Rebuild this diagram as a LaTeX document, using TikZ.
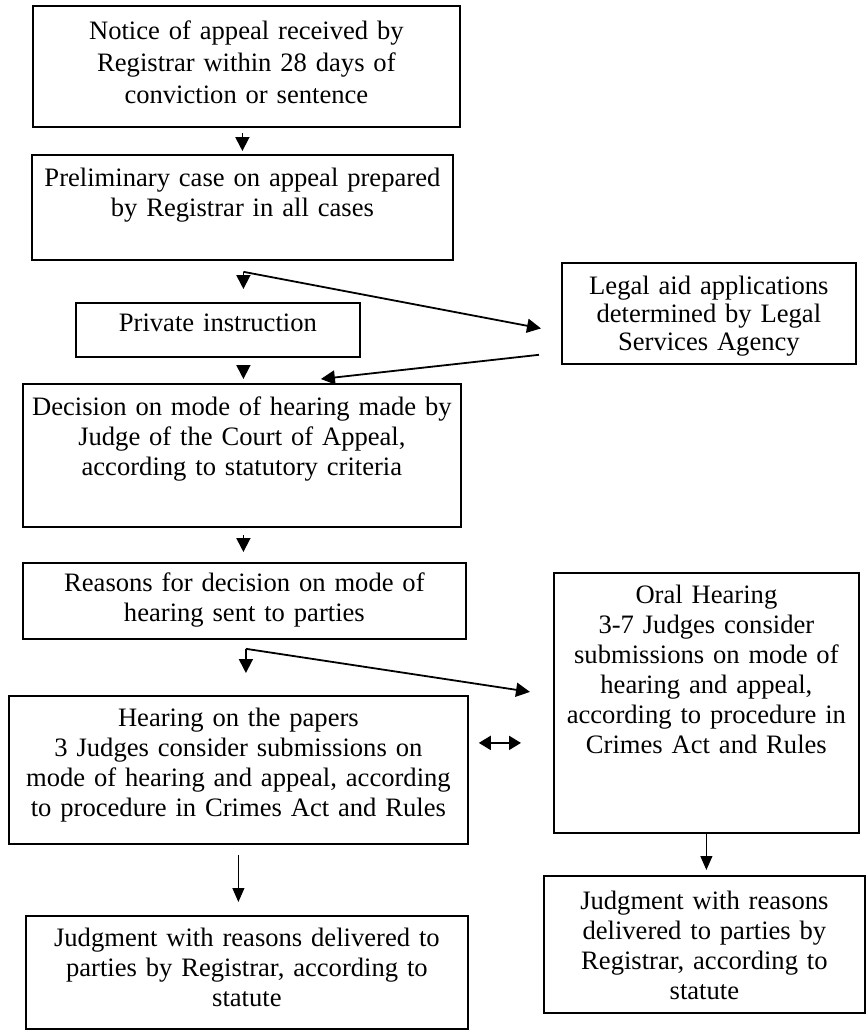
\documentclass[tikz,border=0pt]{standalone}
\usepackage{fontspec}
\setmainfont{Liberation Serif}
\usetikzlibrary{arrows.meta, calc}

\begin{document}
\begin{tikzpicture}[x=0.5pt, y=-0.5pt,
    box/.style={draw, line width=0.9pt, inner sep=0pt, anchor=north west, align=center,
      font=\fontsize{13.3}{15}\selectfont},
    arr/.style={line width=0.9pt, -{Triangle[length=7pt, width=7pt]}},
    thinarr/.style={line width=0.5pt, -{Triangle[length=7pt, width=6pt]}}]
\useasboundingbox (0,0) rectangle (866,1030);

% main column
\node[box, text width=213.5pt, text height=17pt, text depth=43.5pt,
  font=\fontsize{13.3}{16}\selectfont] (notice) at (32,5)
  {Notice of appeal received by\\Registrar within 28 days of\\conviction or sentence};
\node[box, text width=210.5pt, text height=16pt, text depth=36.5pt] (prelim) at (31,154)
  {Preliminary case on appeal prepared\\by Registrar in all cases};
\node[box, text width=142pt, text height=14.5pt, text depth=12.5pt] (priv) at (75,302)
  {Private instruction};
\node[box, text width=147pt, text height=16pt, text depth=34.5pt,
  font=\fontsize{13.3}{14}\selectfont] (legal) at (561,262)
  {Legal aid applications\\determined by Legal\\Services Agency};
\node[box, text width=219pt, text height=16pt, text depth=55.5pt] (dec) at (22,383)
  {Decision on mode of hearing made by\\Judge of the Court of Appeal,\\according to statutory criteria};
\node[box, text width=221.5pt, text height=14.5pt, text depth=23.5pt] (rsn) at (22,562)
  {Reasons for decision on mode of\\hearing sent to parties};

% the two kinds of hearing
\node[box, text width=229.5pt, text height=15.5pt, text depth=58.5pt] (pap) at (8,695)
  {Hearing on the papers\\3 Judges consider submissions on\\mode of hearing and appeal, according\\to procedure in Crimes Act and Rules};
\node[box, text width=152.5pt, text height=15.5pt, text depth=114.5pt] (oral) at (553,572)
  {Oral Hearing\\3-7 Judges consider\\submissions on mode of\\hearing and appeal,\\according to procedure in\\Crimes Act and Rules};
\node[box, text width=221pt, text height=15.5pt, text depth=41pt] (jl) at (25,915)
  {Judgment with reasons delivered to\\parties by Registrar, according to\\statute};
\node[box, text width=160.5pt, text height=17pt, text depth=51.5pt] (jr) at (543,875)
  {Judgment with reasons\\delivered to parties by\\Registrar, according to\\statute};

% connectors
\draw[arr] ($(prelim.north)+(0,-21)$) -- ($(prelim.north)+(0,-3)$);
\coordinate (split1) at ($(prelim.south)+(1,11)$);
\draw[arr] (split1) -- ($(split1 |- priv.north)+(0,-13)$);
\draw[arr] (split1) -- ($(legal.west)+(-20,15)$);
\draw[arr] ($(priv.south -| split1)+(0,8)$) -- ($(dec.north -| split1)+(0,-4)$);
\draw[arr] ($(legal.south west)+(-22,-10)$) -- ($(dec.north)+(79,-4)$);
\draw[arr] ($(dec.south -| split1)+(0,7)$) -- ($(rsn.north -| split1)+(0,-10)$);
\coordinate (split2) at ($(rsn.south)+(1.5,9)$);
\draw[arr] (split2) -- ($(split2 |- pap.north)+(0,-22)$);
\draw[arr] (split2) -- ($(oral.west)+(-23,-11)$);
\draw[line width=1pt, {Triangle[length=6pt, width=7pt]}-{Triangle[length=6pt, width=7pt]}]
  ($(pap.east)+(10,-27)$) -- ($(oral.west |- pap.east)+(-32,-27)$);
\draw[thinarr] ($(pap.south)+(0,10)$) -- ($(pap.south |- jl.north)+(0,-13)$);
\draw[thinarr] (oral.south) -- ($(oral.south |- jr.north)+(0,-5)$);
\end{tikzpicture}
\end{document}
